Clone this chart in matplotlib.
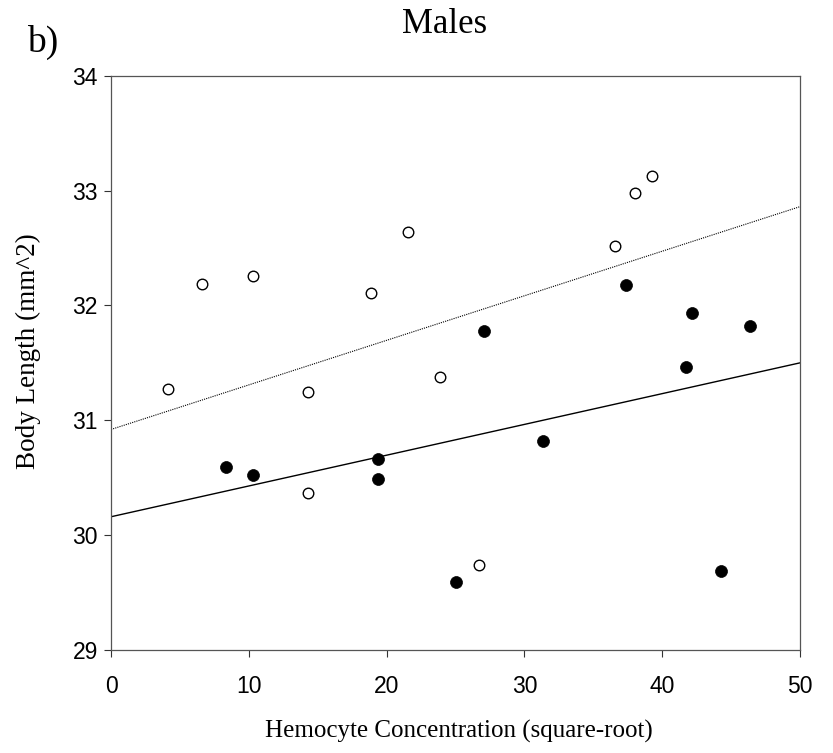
import matplotlib
matplotlib.use('Agg')
import matplotlib.pyplot as plt
import numpy as np

# Open symbols
open_x = [4.14, 6.61, 10.31, 14.26, 14.26, 18.86, 21.57, 23.87, 26.72, 36.58, 38.03, 39.28]
open_y = [31.27, 32.19, 32.26, 31.25, 30.37, 32.11, 32.64, 31.38, 29.74, 32.52, 32.98, 33.13]

# Filled symbols
filled_x = [8.38, 10.31, 19.35, 19.35, 25.03, 27.08, 31.37, 37.37, 41.70, 42.14, 44.24, 46.39]
filled_y = [30.59, 30.52, 30.66, 30.49, 29.59, 31.78, 30.82, 32.18, 31.46, 31.93, 29.69, 31.82]

# Fitted lines (intercept, slope)
open_fit = (30.92, 0.0388)
filled_fit = (30.16, 0.0268)

x_ticks = [0, 10, 20, 30, 40, 50]
y_ticks = [29, 30, 31, 32, 33, 34]

serif = 'Liberation Serif'
sans = 'Liberation Sans'

fig = plt.figure(figsize=(8.33, 7.53), dpi=100)
ax = fig.add_axes([111 / 833, 1 - 650 / 753, (800 - 111) / 833, (650 - 75.7) / 753])

xs = np.array([0, 50])
ax.plot(xs, open_fit[0] + open_fit[1] * xs, color='black', lw=0.8,
        linestyle=(0, (1, 1)), zorder=2)
ax.plot(xs, filled_fit[0] + filled_fit[1] * xs, color='black', lw=1.0, zorder=2)

ax.plot(open_x, open_y, 'o', ms=7.6, mfc='white', mec='black', mew=1.0, zorder=3)
ax.plot(filled_x, filled_y, 'o', ms=8.6, mfc='black', mec='black', mew=0.5, zorder=3)

ax.set_xlim(0, 50)
ax.set_ylim(29, 34)
ax.set_xticks(x_ticks)
ax.set_yticks(y_ticks)

for s in ax.spines.values():
    s.set_color('#555555')
    s.set_linewidth(0.9)

ax.tick_params(axis='both', direction='out', length=4.7, width=0.8, color='#333333',
               labelsize=16.5, top=False, right=False)
ax.tick_params(axis='x', pad=13.5)
ax.tick_params(axis='y', pad=4.7)
for lbl in ax.get_xticklabels() + ax.get_yticklabels():
    lbl.set_family(sans)

fig.text(445 / 833, 1 - 33 / 753, 'Males', ha='center', va='baseline',
         fontsize=25, family=serif)
fig.text(27 / 833, 1 - 52 / 753, 'b)', ha='left', va='baseline',
         fontsize=27, family=serif)
fig.text(459 / 833, 1 - 738 / 753, 'Hemocyte Concentration (square-root)',
         ha='center', va='baseline', fontsize=18, family=serif)
fig.text(28 / 833, 1 - 351.5 / 753, 'Body Length (mm^2)', rotation=90,
         ha='center', va='center', fontsize=19.5, family=serif)

fig.savefig('out.png', dpi=100)
plt.close(fig)
